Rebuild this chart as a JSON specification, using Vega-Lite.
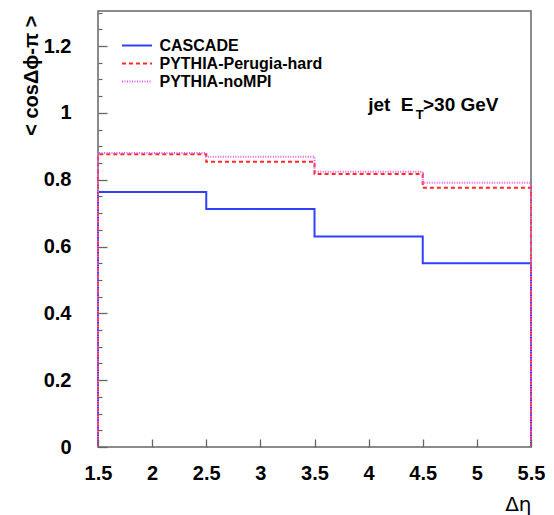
{
  "$schema": "https://vega.github.io/schema/vega-lite/v6.json",
  "width": 433,
  "height": 436,
  "autosize": {"type": "none"},
  "padding": {"left": 98, "top": 11, "right": 23, "bottom": 68},
  "background": "white",
  "config": {
    "view": {"stroke": "#666", "strokeWidth": 1.5},
    "font": "Liberation Sans"
  },
  "resolve": {"axis": {"y": "independent"}},
  "layer": [
    {
      "data": {
        "values": [
          {"series": "CASCADE", "i": 0, "x": 1.5, "y": 0},
          {"series": "CASCADE", "i": 1, "x": 1.5, "y": 0.763},
          {"series": "CASCADE", "i": 2, "x": 2.5, "y": 0.712},
          {"series": "CASCADE", "i": 3, "x": 3.5, "y": 0.63},
          {"series": "CASCADE", "i": 4, "x": 4.5, "y": 0.55},
          {"series": "CASCADE", "i": 5, "x": 5.5, "y": 0.55},
          {"series": "CASCADE", "i": 6, "x": 5.5, "y": 0},
          {"series": "PYTHIA-Perugia-hard", "i": 0, "x": 1.5, "y": 0},
          {"series": "PYTHIA-Perugia-hard", "i": 1, "x": 1.5, "y": 0.876},
          {"series": "PYTHIA-Perugia-hard", "i": 2, "x": 2.5, "y": 0.854},
          {"series": "PYTHIA-Perugia-hard", "i": 3, "x": 3.5, "y": 0.817},
          {"series": "PYTHIA-Perugia-hard", "i": 4, "x": 4.5, "y": 0.776},
          {"series": "PYTHIA-Perugia-hard", "i": 5, "x": 5.5, "y": 0.776},
          {"series": "PYTHIA-Perugia-hard", "i": 6, "x": 5.5, "y": 0},
          {"series": "PYTHIA-noMPI", "i": 0, "x": 1.5, "y": 0},
          {"series": "PYTHIA-noMPI", "i": 1, "x": 1.5, "y": 0.88},
          {"series": "PYTHIA-noMPI", "i": 2, "x": 2.5, "y": 0.869},
          {"series": "PYTHIA-noMPI", "i": 3, "x": 3.5, "y": 0.824},
          {"series": "PYTHIA-noMPI", "i": 4, "x": 4.5, "y": 0.791},
          {"series": "PYTHIA-noMPI", "i": 5, "x": 5.5, "y": 0.791},
          {"series": "PYTHIA-noMPI", "i": 6, "x": 5.5, "y": 0}
        ]
      },
      "mark": {"type": "line", "interpolate": "step-after", "strokeWidth": 2, "clip": false},
      "encoding": {
        "x": {
          "field": "x", "type": "quantitative",
          "scale": {"domain": [1.5, 5.5], "nice": false, "zero": false},
          "axis": {
            "values": [1.5, 2, 2.5, 3, 3.5, 4, 4.5, 5, 5.5],
            "format": "~g",
            "grid": false, "zindex": 1, "domain": false,
            "tickColor": "#666", "tickSize": -8, "tickWidth": 1.3,
            "labelFont": "Liberation Sans", "labelFontWeight": "bold", "labelFontSize": 20, "labelColor": "black",
            "labelPadding": 24, "labelFlush": false, "labelOverlap": false,
            "title": "Δη", "titleFont": "DejaVu Sans", "titleFontWeight": "normal", "titleFontSize": 20, "titleColor": "black",
            "titleAnchor": "end", "titleAlign": "right", "titleX": 433, "titleY": 63, "titleBaseline": "alphabetic"
          }
        },
        "y": {
          "field": "y", "type": "quantitative",
          "scale": {"domain": [0, 1.305], "nice": false},
          "axis": {
            "orient": "left",
            "values": [0, 0.2, 0.4, 0.6, 0.8, 1, 1.2],
            "format": "~g",
            "grid": false, "zindex": 1, "domain": false,
            "tickColor": "#666", "tickWidth": 1.3, "tickSize": -9,
            "labelFont": "Liberation Sans", "labelFontWeight": "bold", "labelFontSize": 20, "labelColor": "black",
            "labelPadding": 36, "labelFlush": false, "labelOverlap": false,
            "title": "< cosΔϕ-π >", "titleFont": "Liberation Sans", "titleFontWeight": "bold", "titleFontSize": 20, "titleColor": "black",
            "titleAngle": -90, "titleAlign": "right", "titleBaseline": "middle", "titleX": -67, "titleY": 4
          }
        },
        "order": {"field": "i", "type": "quantitative"},
        "color": {
          "field": "series", "type": "nominal",
          "scale": {"domain": ["CASCADE", "PYTHIA-Perugia-hard", "PYTHIA-noMPI"], "range": ["#3040ff", "#ff2a2a", "#e855ee"]},
          "legend": {
            "orient": "none", "legendX": 30.5, "legendY": 26, "title": null, "padding": 0,
            "symbolType": "M-2,0H2", "symbolSize": 225, "symbolStrokeWidth": 2,
            "labelFont": "Liberation Sans", "labelFontWeight": "bold", "labelFontSize": 16, "labelColor": "black",
            "labelOffset": 14, "rowPadding": 1, "labelLimit": 400
          }
        },
        "strokeDash": {
          "field": "series", "type": "nominal",
          "scale": {"domain": ["CASCADE", "PYTHIA-Perugia-hard", "PYTHIA-noMPI"], "range": [[1, 0], [4, 3], [1, 1.5]]},
          "legend": null
        }
      }
    },
    {
      "data": {"values": [{"x": 4.415, "y": 1.007, "t": "jet\u00a0\u00a0E"}]},
      "mark": {"type": "text", "align": "right", "baseline": "alphabetic", "font": "Liberation Sans", "fontWeight": "bold", "fontSize": 19, "color": "black"},
      "encoding": {
        "x": {"field": "x", "type": "quantitative"},
        "y": {
          "field": "y", "type": "quantitative",
          "axis": {
            "orient": "left",
            "values": [0.05, 0.1, 0.15, 0.25, 0.3, 0.35, 0.45, 0.5, 0.55, 0.65, 0.7, 0.75, 0.85, 0.9, 0.95, 1.05, 1.1, 1.15, 1.25, 1.3],
            "labels": false, "domain": false, "grid": false, "title": null, "zindex": 1,
            "tickColor": "#666", "tickWidth": 1.2, "tickSize": -4
          }
        },
        "text": {"field": "t"}
      }
    },
    {
      "data": {"values": [{"x": 4.435, "y": 0.981, "t": "T"}]},
      "mark": {"type": "text", "align": "left", "baseline": "alphabetic", "font": "Liberation Sans", "fontWeight": "bold", "fontSize": 13, "color": "black"},
      "encoding": {
        "x": {"field": "x", "type": "quantitative"},
        "y": {"field": "y", "type": "quantitative", "axis": null},
        "text": {"field": "t"}
      }
    },
    {
      "data": {"values": [{"x": 4.502, "y": 1.007, "t": ">30 GeV"}]},
      "mark": {"type": "text", "align": "left", "baseline": "alphabetic", "font": "Liberation Sans", "fontWeight": "bold", "fontSize": 19, "color": "black"},
      "encoding": {
        "x": {"field": "x", "type": "quantitative"},
        "y": {"field": "y", "type": "quantitative", "axis": null},
        "text": {"field": "t"}
      }
    }
  ]
}
